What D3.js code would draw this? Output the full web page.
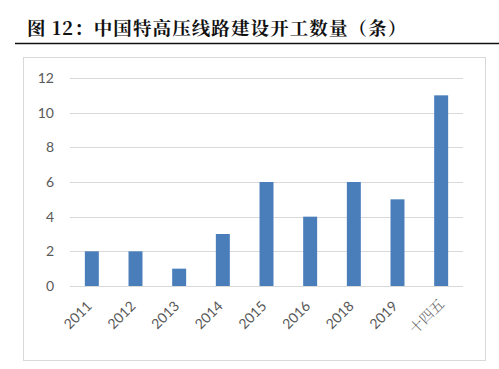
<!DOCTYPE html>
<html><head><meta charset="utf-8">
<script src="https://cdn.jsdelivr.net/npm/d3@7"></script>
<style>body{margin:0;background:#fff;}svg{display:block;}</style>
</head><body>
<svg id="c" width="499" height="369"></svg>
<script>
const categories = ["2011","2012","2013","2014","2015","2016","2018","2019","十四五"];
const values = [2,2,1,3,6,4,6,5,11];
const yTicks = [0,2,4,6,8,10,12];
const title = "图 12：中国特高压线路建设开工数量（条）";

const svg = d3.select("#c");
svg.append("text").attr("x",27).attr("y",35)
  .attr("font-family","'Noto Serif CJK SC','Noto Sans CJK SC',sans-serif")
  .attr("font-weight","bold").attr("font-size",18.5).attr("fill","#111")
  .attr("letter-spacing",1.1)
  .text(title);
svg.append("line").attr("x1",15).attr("x2",499).attr("y1",43.5).attr("y2",43.5)
  .attr("stroke","#111").attr("stroke-width",1.6);
svg.append("rect").attr("x",23.5).attr("y",57.5).attr("width",462).attr("height",303)
  .attr("fill","#fff").attr("stroke","#d9d9d9");

const x = d3.scaleBand().domain(categories).range([70,463]).paddingInner(0.68).paddingOuter(0.34);
const y = d3.scaleLinear().domain([0,12]).range([286,78]);

const g = svg.append("g");
g.selectAll("line.grid").data(yTicks).join("line")
  .attr("x1",70).attr("x2",463).attr("y1",d=>Math.round(y(d))+0.5).attr("y2",d=>Math.round(y(d))+0.5)
  .attr("stroke","#d9d9d9").attr("stroke-width",1);
g.selectAll("text.yt").data(yTicks).join("text")
  .attr("x",54).attr("y",d=>y(d)+5).attr("text-anchor","end")
  .attr("font-family","Lato, 'Open Sans', sans-serif").attr("font-size",14).attr("fill","#595959")
  .text(d=>d);
g.selectAll("rect.bar").data(values).join("rect")
  .attr("x",(d,i)=>x(categories[i])).attr("width",x.bandwidth())
  .attr("y",d=>y(d)).attr("height",d=>y(0)-y(d)).attr("fill","#4a7ebb");
g.selectAll("text.xt").data(categories).join("text")
  .attr("transform",d=>`translate(${x(d)+x.bandwidth()/2+(/\d/.test(d)?1:4)},${/\d/.test(d)?307:305}) rotate(-45)`)
  .attr("text-anchor","end")
  .attr("font-family",d=>/\d/.test(d)?"Lato, 'Open Sans', sans-serif":"'Noto Serif CJK SC','Noto Sans CJK SC', sans-serif")
  .attr("font-weight",d=>/\d/.test(d)?"normal":"300")
  .attr("font-size",14).attr("fill","#595959")
  .text(d=>d);
</script>
</body></html>
